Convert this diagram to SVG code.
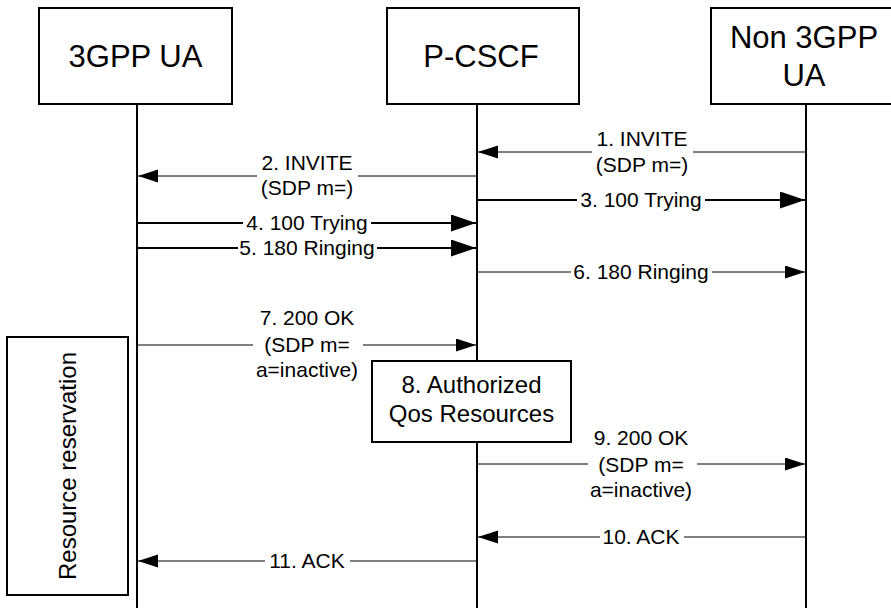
<svg xmlns="http://www.w3.org/2000/svg" width="891" height="608" viewBox="0 0 891 608">
<style>
  .box { fill: #fff; stroke: #000; stroke-width: 2; }
  .life { stroke: #000; stroke-width: 2; fill: none; }
  .thin { stroke: #000; stroke-width: 1; fill: none; }
  .thick { stroke: #000; stroke-width: 2; fill: none; }
  text { font-family: "Liberation Sans", Arial, sans-serif; fill: #000; text-anchor: middle; }
  .hdr { font-size: 31px; }
  .lbl { font-size: 21px; }
  .big { font-size: 24px; }
</style>
<defs>
  <marker id="ah" markerUnits="userSpaceOnUse" markerWidth="21" markerHeight="14" refX="20" refY="6.5" orient="auto">
    <path d="M0,0 L20,6.5 L0,13 z" fill="#000"/>
  </marker>
  <marker id="ahb" markerUnits="userSpaceOnUse" markerWidth="26" markerHeight="18" refX="25" refY="8.5" orient="auto">
    <path d="M0,0 L25,8.5 L0,17 z" fill="#000"/>
  </marker>
</defs>

<g id="lifelines">
  <line class="life" x1="137" y1="104" x2="137" y2="608"/>
  <line class="life" x1="477" y1="104" x2="477" y2="608"/>
  <line class="life" x1="806" y1="104" x2="806" y2="608"/>
</g>

<g id="ua3gpp">
  <rect class="box" x="39" y="8" width="193" height="96"/>
  <text class="hdr" x="135.5" y="67">3GPP UA</text>
</g>
<g id="pcscf">
  <rect class="box" x="387" y="8" width="192" height="96"/>
  <text class="hdr" x="481" y="67">P-CSCF</text>
</g>
<g id="non3gpp">
  <rect class="box" x="711" y="8" width="195" height="96"/>
  <text class="hdr" x="804" y="48">Non 3GPP</text>
  <text class="hdr" x="804" y="86">UA</text>
</g>

<g id="resource">
  <rect class="box" x="7" y="337" width="121" height="258"/>
  <text class="big" transform="translate(76,466) rotate(-90)">Resource reservation</text>
</g>

<g id="authorize">
  <rect class="box" x="372" y="361" width="199" height="81"/>
  <text class="big" x="471.5" y="393">8. Authorized</text>
  <text class="big" x="471.5" y="422">Qos Resources</text>
</g>

<g id="connectors">
  <!-- 1 -->
  <line class="thin" x1="806" y1="152" x2="693" y2="152"/>
  <line class="thin" x1="592" y1="152" x2="478" y2="152" marker-end="url(#ah)"/>
  <!-- 2 -->
  <line class="thin" x1="477" y1="176" x2="358" y2="176"/>
  <line class="thin" x1="257" y1="176" x2="138" y2="176" marker-end="url(#ah)"/>
  <!-- 3 -->
  <line class="thick" x1="477" y1="200" x2="577" y2="200"/>
  <line class="thick" x1="705" y1="200" x2="805" y2="200" marker-end="url(#ahb)"/>
  <!-- 4 -->
  <line class="thick" x1="137" y1="223" x2="243" y2="223"/>
  <line class="thick" x1="371" y1="223" x2="476" y2="223" marker-end="url(#ahb)"/>
  <!-- 5 -->
  <line class="thick" x1="137" y1="248" x2="238" y2="248"/>
  <line class="thick" x1="377" y1="248" x2="476" y2="248" marker-end="url(#ahb)"/>
  <!-- 6 -->
  <line class="thin" x1="477" y1="272" x2="571" y2="272"/>
  <line class="thin" x1="712" y1="272" x2="805" y2="272" marker-end="url(#ah)"/>
  <!-- 7 -->
  <line class="thin" x1="137" y1="345" x2="253" y2="345"/>
  <line class="thin" x1="363" y1="345" x2="476" y2="345" marker-end="url(#ah)"/>
  <!-- 9 -->
  <line class="thin" x1="477" y1="464" x2="588" y2="464"/>
  <line class="thin" x1="697" y1="464" x2="805" y2="464" marker-end="url(#ah)"/>
  <!-- 10 -->
  <line class="thin" x1="806" y1="537" x2="684" y2="537"/>
  <line class="thin" x1="600" y1="537" x2="478" y2="537" marker-end="url(#ah)"/>
  <!-- 11 -->
  <line class="thin" x1="477" y1="561" x2="350" y2="561"/>
  <line class="thin" x1="265" y1="561" x2="138" y2="561" marker-end="url(#ah)"/>
</g>

<g id="labels">
  <text class="lbl" x="642" y="146">1. INVITE</text>
  <text class="lbl" x="642" y="172">(SDP m=)</text>
  <text class="lbl" x="307" y="170">2. INVITE</text>
  <text class="lbl" x="307" y="195">(SDP m=)</text>
  <text class="lbl" x="641" y="207">3. 100 Trying</text>
  <text class="lbl" x="307" y="230">4. 100 Trying</text>
  <text class="lbl" x="307" y="255">5. 180 Ringing</text>
  <text class="lbl" x="641" y="279">6. 180 Ringing</text>
  <text class="lbl" x="307" y="325">7. 200 OK</text>
  <text class="lbl" x="307" y="352">(SDP m=</text>
  <text class="lbl" x="307" y="377">a=inactive)</text>
  <text class="lbl" x="641" y="445">9. 200 OK</text>
  <text class="lbl" x="641" y="472">(SDP m=</text>
  <text class="lbl" x="641" y="497">a=inactive)</text>
  <text class="lbl" x="641" y="544">10. ACK</text>
  <text class="lbl" x="307" y="568">11. ACK</text>
</g>
</svg>
